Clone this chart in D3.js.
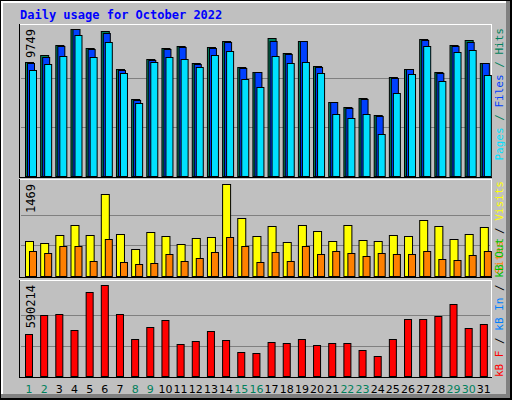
<!DOCTYPE html>
<html><head><meta charset="utf-8">
<script src="https://cdn.jsdelivr.net/npm/d3@7"></script>
<style>body{margin:0;background:#fff}</style>
</head><body>
<svg id="chart" width="512" height="400"></svg>
<script>
const days = d3.range(1, 32)
const weekend = [1, 2, 8, 9, 15, 16, 22, 23, 29, 30]
const hits = [7559,8023,8686,9749,8487,9614,7095,5106,7758,8487,8620,7492,8553,8951,7227,6896,9150,8155,8951,7294,4907,4575,5172,4044,6564,7095,9084,6896,8686,9017,7492]
const files = [7492,7890,8620,9749,8421,9482,7028,5039,7691,8421,8553,7426,8487,8885,7161,6896,8951,8089,8951,7227,4907,4509,5106,3978,6498,7095,9017,6830,8620,8885,7492]
const pages = [7028,7426,7957,9349,7890,8885,6830,4840,7559,7890,7758,7227,8023,8288,6432,5901,7957,7492,7559,6830,4111,3846,4111,2785,5503,6763,8620,6299,8222,8354,6697]
const visits = [559,527,655,814,655,1309,671,431,703,639,511,607,623,1469,926,639,798,543,814,718,559,814,575,559,655,639,894,798,591,671,782]
const sites = [399,367,479,479,239,591,224,192,208,351,239,287,383,623,479,224,383,239,479,351,399,367,319,367,351,351,399,271,255,335,399]
const kbytes = [272567,394900,401340,298320,542990,590214,401340,240370,317640,362710,208180,227500,291880,233940,156670,150230,221060,214620,240370,201740,214620,214620,169550,130920,240370,369150,369150,388460,465730,311200,336950]

const svg = d3.select("#chart")
const mono = "DejaVu Sans Mono"

// frame
svg.append("rect").attr("x",0).attr("y",0).attr("width",512).attr("height",400).attr("fill","#000")
svg.append("rect").attr("x",1).attr("y",1).attr("width",509).attr("height",397).attr("fill","#808080")
svg.append("rect").attr("x",1).attr("y",1).attr("width",505).attr("height",393).attr("fill","#fff")
svg.append("rect").attr("x",3).attr("y",3).attr("width",503).attr("height",391).attr("fill","#c0c0c0")

svg.append("text").attr("x",20).attr("y",19).attr("font-family",mono).attr("font-weight","bold")
  .attr("font-size",12).attr("fill","#0000ff").text("Daily usage for October 2022")

const x = d3.scaleBand().domain(days).range([20, 490]).paddingInner(0)
const bx = d => x(d) + 5

const panels = [
  {top: 25, bottom: 176, max: 9749},
  {top: 180, bottom: 276, max: 1469},
  {top: 281, bottom: 376, max: 590214}
]
const ys = panels.map(p => d3.scaleLinear().domain([0, p.max]).range([p.bottom, p.top + 4]))

panels.forEach((p, i) => {
  const g = svg.append("g")
  g.append("rect").attr("x",20).attr("y",p.top).attr("width",471).attr("height",p.bottom - p.top + 1).attr("fill","#c0c0c0")
  g.selectAll(".grid").data([1/3, 2/3]).join("line")
    .attr("x1",21).attr("x2",490).attr("y1",f => Math.round(ys[i](p.max*f))+0.5).attr("y2",f => Math.round(ys[i](p.max*f))+0.5)
    .attr("stroke","#808080")
  g.append("line").attr("x1",20).attr("x2",491).attr("y1",p.top-0.5).attr("y2",p.top-0.5).attr("stroke","#fff")
  g.append("line").attr("x1",491.5).attr("x2",491.5).attr("y1",p.top-1).attr("y2",p.bottom+2).attr("stroke","#fff")
  g.append("line").attr("x1",19.5).attr("x2",19.5).attr("y1",p.top-1).attr("y2",p.bottom+2).attr("stroke","#000")
  g.append("line").attr("x1",19).attr("x2",492).attr("y1",p.bottom+1.5).attr("y2",p.bottom+1.5).attr("stroke","#000")
  g.append("text").attr("transform",`translate(35,${ys[i](p.max)}) rotate(-90)`)
    .attr("text-anchor","end").attr("font-family",mono).attr("font-size",12).attr("fill","#000").text(p.max)
})

function bars(data, y, off, w, color) {
  svg.append("g").selectAll("rect").data(data).join("rect")
    .attr("x",(d,i) => bx(days[i]) + off + 0.5).attr("y",d => Math.round(y(d)) + 0.5)
    .attr("width",w).attr("height",d => y(0) - Math.round(y(d)))
    .attr("fill",color).attr("stroke","#000").attr("stroke-width",1)
}
bars(hits, ys[0], 0, 8, "#00805c")
bars(files, ys[0], 2, 7, "#0040ff")
bars(pages, ys[0], 4, 7, "#00e0ff")
bars(visits, ys[1], 0, 8, "#ffff00")
bars(sites, ys[1], 4, 7, "#ff8000")
bars(kbytes, ys[2], 0, 7, "#ff0000")

// right legends
function legend(y, anchor, parts) {
  const t = svg.append("text").attr("transform",`translate(503,${y}) rotate(-90)`)
    .attr("text-anchor",anchor).attr("font-family",mono).attr("font-size",11)
  parts.forEach(([s, c]) => t.append("tspan").attr("fill",c).text(s))
}
legend(28, "end", [["Pages","#00e0ff"],[" / ","#00805c"],["Files","#0040ff"],[" / ","#00805c"],["Hits","#00805c"]])
legend(181, "end", [["Sites","#ff8000"],[" / ","#000"],["Visits","#ffff00"]])
legend(377, "start", [["kB F","#ff0000"],[" / ","#000"],["kB In","#0080ff"],[" / ","#000"],["kB Out","#00c000"]])

svg.append("g").selectAll("text").data(days).join("text")
  .attr("x",d => bx(d) + 4).attr("y",393).attr("text-anchor","middle")
  .attr("font-family","DejaVu Sans").attr("font-size",11)
  .attr("fill",d => weekend.includes(d) ? "#00805c" : "#000").text(d => d)
</script>
</body></html>
